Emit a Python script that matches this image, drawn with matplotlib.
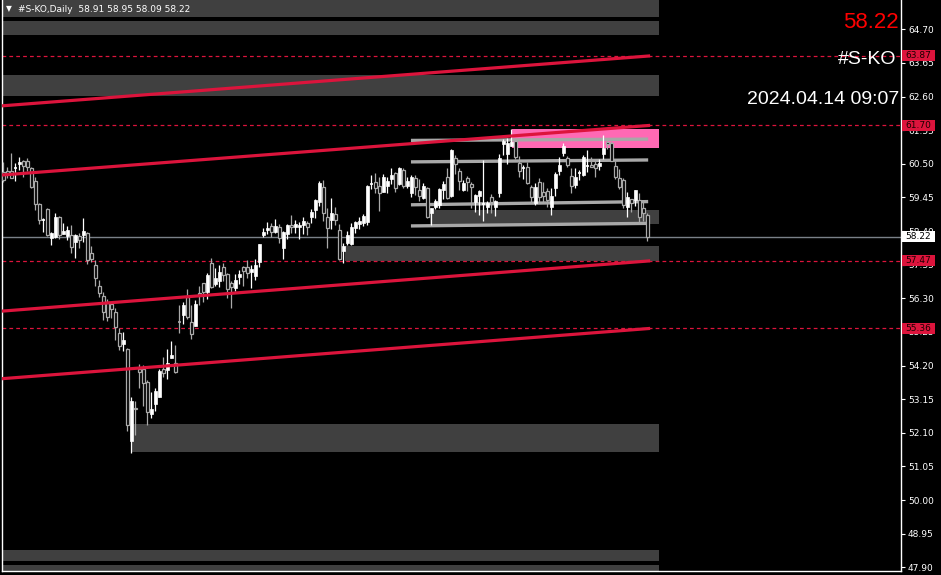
import matplotlib
matplotlib.use("Agg")
import matplotlib.pyplot as plt
from matplotlib.patches import Rectangle
import numpy as np

# ---------------- data ----------------
opens = [60.25, 60.27, 60.26, 60.34, 60.50, 60.59, 60.59, 60.38, 59.96, 59.24,
         58.73, 59.09, 58.19, 58.22, 58.85, 58.30, 58.25, 58.28, 58.07, 58.25,
         58.28, 58.35, 57.71, 57.34, 56.68, 56.37, 56.20, 56.11, 55.88, 55.23,
         54.87, 54.72, 51.85, 52.88, 54.08, 54.09, 53.70, 52.69, 53.00, 53.22,
         54.09, 54.06, 54.45, 54.28, 55.57, 55.78, 56.33, 55.55, 55.44, 56.48,
         56.77, 56.51, 57.39, 56.75, 56.84, 57.29, 57.05, 56.77, 56.61, 56.97,
         57.27, 57.27, 57.11, 57.01, 57.44, 58.28, 58.43, 58.56, 58.38, 58.52,
         57.88, 58.31, 58.59, 58.54, 58.54, 58.59, 58.64, 58.85, 59.06, 59.32,
         59.77, 58.83, 58.75, 58.93, 58.43, 57.78, 58.04, 57.99, 58.51, 58.62,
         58.66, 58.69, 59.87, 59.94, 59.81, 59.63, 59.81, 60.02, 60.20, 59.86,
         60.31, 59.81, 59.58, 60.05, 59.68, 59.42, 59.75, 58.95, 59.16, 59.21,
         59.68, 60.08, 59.50, 60.69, 60.27, 59.68, 60.07, 59.86, 59.30, 59.50,
         59.25, 59.16, 59.47, 59.16, 59.58, 61.11, 60.80, 61.06, 61.21, 60.52,
         60.34, 60.39, 59.78, 59.27, 59.94, 59.63, 59.66, 59.16, 59.73, 60.29,
         60.83, 60.67, 60.12, 59.84, 60.21, 60.15, 60.42, 60.46, 60.48, 60.43,
         60.81, 61.19, 61.16, 60.43, 60.05, 59.99, 59.14, 59.39, 59.37, 59.37,
         59.11, 58.91]
highs = [60.57, 60.40, 60.83, 60.53, 60.71, 60.62, 60.67, 60.40, 60.09, 59.27,
         58.81, 59.11, 58.36, 58.95, 58.87, 58.64, 58.56, 58.59, 58.32, 58.33,
         58.82, 58.36, 57.93, 57.50, 56.87, 56.51, 56.28, 56.20, 55.99, 55.38,
         55.26, 54.76, 53.23, 53.09, 54.24, 54.22, 53.75, 53.36, 53.49, 54.08,
         54.48, 54.72, 54.97, 54.84, 56.09, 56.18, 56.59, 56.09, 56.25, 56.68,
         56.79, 57.10, 57.55, 57.24, 57.34, 57.41, 57.08, 56.84, 57.05, 57.18,
         57.32, 57.50, 57.34, 57.52, 57.99, 58.49, 58.67, 58.64, 58.77, 58.61,
         58.40, 58.62, 58.90, 58.75, 58.69, 58.85, 58.71, 59.08, 59.40, 59.97,
         59.99, 59.11, 59.44, 59.16, 58.62, 58.02, 58.41, 58.64, 58.72, 58.85,
         58.93, 59.84, 60.15, 60.20, 60.10, 60.17, 60.10, 60.38, 60.25, 60.41,
         60.38, 60.10, 60.15, 60.15, 60.02, 59.89, 59.79, 59.13, 59.40, 59.75,
         59.96, 60.38, 60.96, 60.77, 60.36, 59.99, 60.12, 59.94, 59.55, 59.68,
         60.62, 59.34, 59.55, 59.37, 60.80, 61.27, 61.30, 61.58, 61.22, 60.74,
         60.46, 60.57, 59.84, 59.89, 60.05, 59.94, 59.73, 59.73, 60.25, 60.70,
         61.14, 60.74, 60.38, 60.36, 60.31, 60.77, 60.93, 60.72, 60.64, 60.64,
         61.40, 61.27, 61.22, 60.60, 60.33, 60.05, 59.63, 59.39, 59.68, 59.60,
         59.32, 58.95]
lows = [59.93, 60.06, 60.05, 59.96, 60.31, 60.10, 60.26, 59.75, 59.06, 58.61,
        58.36, 58.26, 57.96, 58.19, 58.14, 58.30, 58.12, 57.72, 57.57, 57.88,
        58.07, 57.37, 57.44, 56.69, 56.35, 55.62, 55.59, 55.68, 55.00, 54.69,
        54.66, 52.16, 51.48, 52.03, 53.51, 52.95, 52.34, 52.57, 52.79, 53.22,
        53.83, 53.77, 54.45, 53.96, 55.23, 55.50, 55.65, 55.03, 55.44, 56.09,
        56.19, 56.28, 56.63, 56.68, 56.66, 56.84, 56.32, 55.99, 56.54, 56.75,
        56.68, 56.92, 56.63, 56.87, 57.29, 58.21, 58.31, 58.21, 58.33, 58.02,
        57.53, 58.15, 58.35, 58.35, 58.14, 58.31, 58.28, 58.66, 58.82, 59.18,
        58.71, 57.88, 58.45, 58.58, 57.50, 57.41, 57.96, 57.96, 58.35, 58.46,
        58.57, 58.59, 59.70, 59.60, 59.03, 59.61, 59.58, 59.86, 59.63, 59.84,
        59.73, 59.73, 59.47, 59.53, 59.34, 59.40, 58.82, 58.59, 59.09, 59.11,
        59.40, 59.40, 59.47, 60.17, 59.68, 59.65, 59.65, 59.11, 58.99, 58.90,
        58.71, 58.95, 58.95, 58.88, 59.47, 60.77, 60.48, 61.06, 60.64, 60.10,
        60.02, 59.87, 59.32, 59.21, 59.32, 59.32, 59.16, 58.90, 59.49, 60.15,
        60.74, 60.39, 59.60, 59.73, 59.99, 60.12, 60.25, 60.39, 60.08, 60.31,
        60.64, 60.95, 60.60, 60.02, 59.71, 59.11, 58.85, 59.00, 59.18, 58.69,
        58.71, 58.09]
closes = [59.99, 60.21, 60.07, 60.37, 60.57, 60.44, 60.40, 59.78, 59.25, 58.75,
          58.75, 58.28, 58.33, 58.85, 58.28, 58.40, 58.43, 57.91, 58.28, 58.12,
          58.40, 57.50, 57.53, 56.94, 56.46, 55.88, 55.73, 55.96, 55.41, 54.81,
          55.00, 52.34, 53.09, 52.83, 53.99, 53.67, 52.76, 52.84, 53.41, 54.03,
          53.98, 54.29, 54.53, 54.01, 55.56, 56.09, 55.73, 55.18, 56.12, 56.40,
          56.49, 57.03, 56.66, 56.92, 57.11, 57.03, 56.59, 56.66, 56.87, 57.06,
          57.16, 57.08, 57.22, 57.34, 57.99, 58.36, 58.51, 58.38, 58.56, 58.17,
          58.38, 58.59, 58.52, 58.62, 58.59, 58.72, 58.54, 59.00, 59.37, 59.91,
          58.97, 58.49, 58.97, 58.75, 57.53, 57.93, 58.28, 58.54, 58.69, 58.72,
          58.87, 59.81, 59.89, 59.73, 59.58, 60.10, 59.96, 60.15, 59.75, 60.38,
          59.82, 59.96, 60.10, 59.79, 59.50, 59.81, 58.85, 59.11, 59.34, 59.71,
          59.86, 59.42, 60.93, 60.48, 59.96, 59.89, 59.92, 59.79, 59.53, 59.65,
          59.27, 59.27, 59.32, 59.34, 60.69, 61.21, 61.14, 61.19, 60.71, 60.29,
          60.37, 59.91, 59.47, 59.78, 59.45, 59.50, 59.37, 59.49, 60.18, 60.46,
          61.06, 60.46, 59.81, 60.08, 60.23, 60.70, 60.44, 60.41, 60.36, 60.53,
          60.98, 61.12, 60.60, 60.10, 59.78, 59.21, 59.45, 59.27, 59.68, 58.85,
          58.97, 58.22]

symbol = "#S-KO"
timeframe = "Daily"
timestamp = "2024.04.14 09:07"
last_price = 58.22

# axis ticks
tick_prices = [47.90, 48.95, 50.00, 51.05, 52.10, 53.15, 54.20, 55.25, 56.30,
               57.35, 58.40, 59.45, 60.50, 61.55, 62.60, 63.65, 64.70]

# horizontal levels tagged in red on the price axis
level_prices = [63.87, 61.70, 57.47, 55.36]

# trend lines: (start price, end price)
trend_start = [62.31, 60.15, 55.90, 53.79]
trend_end = [63.87, 61.70, 57.47, 55.36]

# grey zones: (start bar, low price, high price)
zone_start = [-1, -1, -1, 106.7, 85.4, 32.1, -1, -1]
zone_low = [65.08, 64.52, 62.62, 58.62, 57.46, 51.50, 48.09, 47.70]
zone_high = [65.70, 64.96, 63.27, 59.06, 57.93, 52.38, 48.44, 47.98]

# pink zone
pink_start = 127.1
pink_low, pink_high = 61.00, 61.59

# light-grey range lines: (start price, end price)
range_start = [61.23, 60.56, 59.22, 58.56]
range_end = [61.27, 60.62, 59.32, 58.64]

# ---------------- figure ----------------
W, H = 941, 575
fig = plt.figure(figsize=(W / 100, H / 100), dpi=100, facecolor="black")
ax = fig.add_axes([2 / W, 4 / H, 899 / W, 571 / H])
ax.set_facecolor("black")
n = len(opens)
x = np.arange(n)
XMIN, XMAX = -0.325, 224.4
YMIN, YMAX = 47.785, 65.615
ax.set_xlim(XMIN, XMAX)
ax.set_ylim(YMIN, YMAX)

zone_end = n + 2.0
ZONE = "#404040"
for s, lo, hi in zip(zone_start, zone_low, zone_high):
    ax.add_patch(Rectangle((s, lo), zone_end - s, hi - lo, facecolor=ZONE,
                           edgecolor="none", zorder=1))
ax.add_patch(Rectangle((pink_start, pink_low), zone_end - pink_start,
                       pink_high - pink_low, facecolor="#ff69b4",
                       edgecolor="none", zorder=1))

# light-grey range lines
for a, b in zip(range_start, range_end):
    ax.plot([101.9, 161.2], [a, b], color="#a8a8a8", lw=2.4,
            solid_capstyle="butt", zorder=2)

# red dashed levels
for p in level_prices:
    ax.axhline(p, color="#dc143c", lw=0.9, ls=(0, (3, 2.5)), zorder=2)

# bid line
ax.axhline(last_price, color="#7a8088", lw=1.0, zorder=2)

# candles
bull_col = "white"
bear_col = "#a9a9a9"
for i in range(n):
    o, h, l, c = opens[i], highs[i], lows[i], closes[i]
    bull = c >= o
    col = bull_col if bull else bear_col
    ax.vlines(i, l, h, color=col, lw=0.9, zorder=3)
    lo, hi = min(o, c), max(o, c)
    if hi - lo < 0.04:
        ax.hlines((o + c) / 2, i - 0.45, i + 0.45, color=col, lw=1.2, zorder=4)
    else:
        if bull:
            ax.add_patch(Rectangle((i - 0.38, lo), 0.76, hi - lo,
                                   facecolor="white", edgecolor="white",
                                   lw=0.5, zorder=4))
        else:
            ax.add_patch(Rectangle((i - 0.38, lo), 0.76, hi - lo,
                                   facecolor="black", edgecolor=bear_col,
                                   lw=0.9, zorder=4))

# red trend lines
for a, b in zip(trend_start, trend_end):
    ax.plot([XMIN, 161.7], [a, b], color="#dc143c", lw=2.3,
            solid_capstyle="butt", zorder=5)

# axes styling
for side in ["top"]:
    ax.spines[side].set_visible(False)
for side in ["left", "right", "bottom"]:
    ax.spines[side].set_color("white")
    ax.spines[side].set_linewidth(1.0)
ax.set_xticks([])
ax.yaxis.tick_right()
ax.set_yticks(tick_prices)
ax.set_yticklabels([f"{v:.2f}" for v in tick_prices])
ax.tick_params(axis="y", colors="white", labelcolor="white", length=3,
               width=0.8, labelsize=6.5, pad=2)


def py(p):
    """figure-fraction y of a price"""
    d = ax.transData.transform((0, p))
    return d[1] / H


# price tags on the axis
tag_x0 = 902 / W
tag_w = 33 / W
tag_h = 11 / H
for p in level_prices:
    yy = py(p)
    fig.patches.append(Rectangle((tag_x0, yy - tag_h / 2), tag_w, tag_h,
                                 transform=fig.transFigure,
                                 facecolor="#dc143c", edgecolor="none",
                                 zorder=10))
    fig.text(tag_x0 + tag_w / 2, yy, f"{p:.2f}", color="#1a0000",
             fontsize=6.5, ha="center", va="center", zorder=11)
yy = py(last_price)
fig.patches.append(Rectangle((tag_x0, yy - tag_h / 2), tag_w, tag_h,
                             transform=fig.transFigure, facecolor="white",
                             edgecolor="none", zorder=10))
fig.text(tag_x0 + tag_w / 2, yy, f"{last_price:.2f}", color="black",
         fontsize=6.5, ha="center", va="center", zorder=11)

# title
fig.text(6 / W, 1 - 9 / H, "\u25BC", color="white", fontsize=5.5,
         ha="left", va="center")
fig.text(18 / W, 1 - 9 / H,
         f"{symbol},{timeframe}  {opens[-1]:.2f} {highs[-1]:.2f} "
         f"{lows[-1]:.2f} {closes[-1]:.2f}",
         color="white", fontsize=6.5, ha="left", va="center")

# overlay texts
fig.text(899 / W, 1 - 22 / H, f"{last_price:.2f}", color="#ff0000",
         fontsize=16, family="Liberation Sans", ha="right", va="center")
fig.text(896 / W, 1 - 60 / H, symbol, color="white", fontsize=14,
         family="Liberation Sans", ha="right", va="center")
fig.text(899 / W, 1 - 100 / H, timestamp, color="white", fontsize=14,
         family="Liberation Sans", ha="right", va="center")

fig.savefig("out.png", dpi=100, facecolor="black")
